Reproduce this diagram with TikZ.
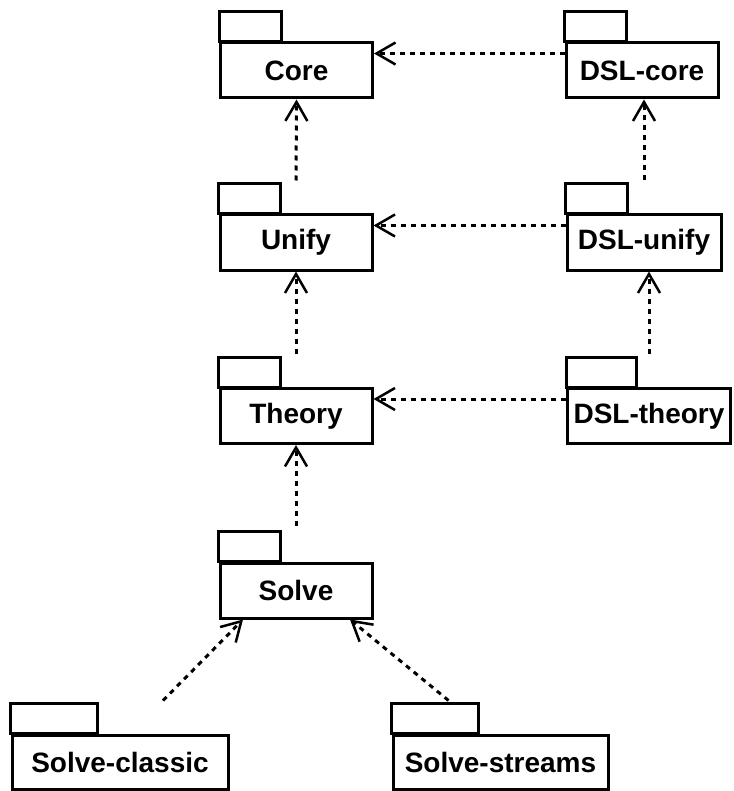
\documentclass[tikz,border=0pt]{standalone}
\usepackage{fontspec}
\setmainfont{Liberation Sans}
\usetikzlibrary{arrows.meta}

\tikzset{
  pkg/.style={draw,line width=3pt,minimum height=55pt,minimum width=152pt,inner sep=0pt,
    font=\fontsize{28}{30}\selectfont\bfseries},
  tab/.style={line width=3pt},
  dep/.style={line width=3pt,dash pattern=on 5pt off 5pt,
    -{Straight Barb[length=19pt,width=22pt,line width=2.5pt]}}
}

\begin{document}
\begin{tikzpicture}[x=1pt,y=-1pt]
\useasboundingbox (0,0) rectangle (733,791);
% packages
\node[pkg] (core) at (296.5,70.5) {Core};
\node[pkg] (unify) at (296,242.5) {Unify};
\node[pkg] (theory) at (296,416) {Theory};
\node[pkg] (solve) at (296,590.5) {Solve};
\node[pkg] (dslcore) at (642,70.5) {DSL-core};
\node[pkg,minimum width=154pt] (dslunify) at (644,242.5) {DSL-unify};
\node[pkg,minimum width=163pt] (dsltheory) at (649,416) {DSL-theory};
\node[pkg,minimum width=216pt,minimum height=54pt] (solveclassic) at (120,762) {Solve-classic};
\node[pkg,minimum width=215pt,minimum height=54pt] (solvestreams) at (500.5,762) {Solve-streams};
% tabs
\foreach \n/\w in {core/62,unify/62,theory/62,solve/62,dslcore/62,dslunify/62,dsltheory/70,solveclassic/87,solvestreams/87}{
  \draw[tab] (\n.north west) rectangle ++(\w,-30);
}
% dependencies
\draw[dep] ([yshift=-12pt]dslcore.north west) -- ([yshift=-12pt]core.north east);
\draw[dep] ([yshift=-12pt]dslunify.north west) -- ([yshift=-12pt]unify.north east);
\draw[dep] ([yshift=-12pt]dsltheory.north west) -- ([yshift=-12pt]theory.north east);
\draw[dep] ([yshift=33pt]unify.north) -- (core.south);
\draw[dep] ([yshift=33pt]theory.north) -- (unify.south);
\draw[dep] ([yshift=36pt]solve.north) -- (theory.south);
\draw[dep] ([yshift=33pt]dslunify.north) -- (dslunify.north |- dslcore.south);
\draw[dep] ([yshift=33pt]dsltheory.north) -- (dsltheory.north |- dslunify.south);
\draw[dep] ([xshift=43pt,yshift=33pt]solveclassic.north) -- ([xshift=-53pt]solve.south);
\draw[dep] ([xshift=-52pt,yshift=33pt]solvestreams.north) -- ([xshift=54pt]solve.south);
\end{tikzpicture}
\end{document}
